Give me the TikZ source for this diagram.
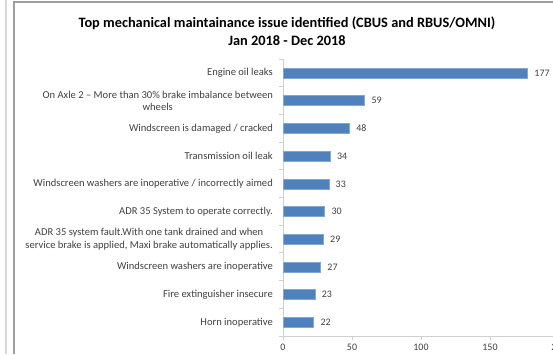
\documentclass[tikz,border=0pt]{standalone}
\usepackage{fontspec}
\setmainfont{Carlito}
\usetikzlibrary{positioning}

\definecolor{barblue}{HTML}{4F81BD}
\definecolor{textgray}{HTML}{404040}
\definecolor{axisgray}{HTML}{D0D0D0}

\begin{document}
\begin{tikzpicture}
[   x=1bp,y=-1bp,
    bar/.style={fill=barblue,draw=barblue!70!white,line width=0.5bp,inner sep=0pt,minimum height=10bp,anchor=west},
    catlabel/.style={text=textgray,font=\fontsize{10.6}{12.2}\selectfont,align=center,anchor=east,inner sep=0pt},
    vallabel/.style={text=textgray,font=\fontsize{10}{11}\selectfont,inner sep=0pt},
    axis/.style={draw=axisgray,line width=1bp},
]
    \useasboundingbox (0,0) rectangle (553,354);
    \clip (0,0) rectangle (553,354);

    % frame of the sheet and of the chart area
    \draw[gray!30,line width=1.5bp] (6,0) -- (6,354);
    \draw[gray!75,line width=1.5bp] (14,354) -- (14,2) -- (556,2);

    \node[font=\bfseries\fontsize{14.4}{18}\selectfont,align=center] (title) at (287,31)
        {Top mechanical maintainance issue identified (CBUS and RBUS/OMNI)\\Jan 2018 - Dec 2018};

    % axes
    \coordinate (origin) at (283,336);
    \coordinate (ytop) at (283,59);
    \coordinate (xend) at (556,336);
    \draw[axis] (ytop) -- (origin) -- (xend);
    \foreach \k in {0,...,10}
    {   \coordinate (tk-\k) at (283,{59+27.7*\k});
        \draw[axis] (tk-\k) -- ++(-4,0);
    }
    \foreach \t in {0,50,100,150,200}
    {   \coordinate (xt-\t) at ({283+1.38*\t},336);
        \draw[axis] (xt-\t) -- ++(0,4);
        \node[vallabel,below=7.5bp of xt-\t] (xl-\t) {\t};
    }

    % bars with category and value labels
    \foreach \v/\t [count=\i] in {
        177/{Engine oil leaks},
        59/{On Axle 2 -- More than 30\% brake imbalance between\\wheels},
        48/{Windscreen is damaged / cracked},
        34/{Transmission oil leak},
        33/{Windscreen washers are inoperative / incorrectly aimed},
        30/{ADR 35 System to operate correctly.},
        29/{ADR 35 system fault.With one tank drained and when\\service brake is applied, Maxi brake automatically applies.},
        27/{Windscreen washers are inoperative},
        23/{Fire extinguisher insecure},
        22/{Horn inoperative}}
    {   \node[bar,minimum width=\v*1.38bp] (bar-\i) at (283,{73+27.7*(\i-1)}) {};
        \node[catlabel] (cat-\i) at (273,{73+27.7*(\i-1)}) {\t};
        \node[vallabel,right=6.5bp of bar-\i] (val-\i) {\v};
    }
\end{tikzpicture}
\end{document}
